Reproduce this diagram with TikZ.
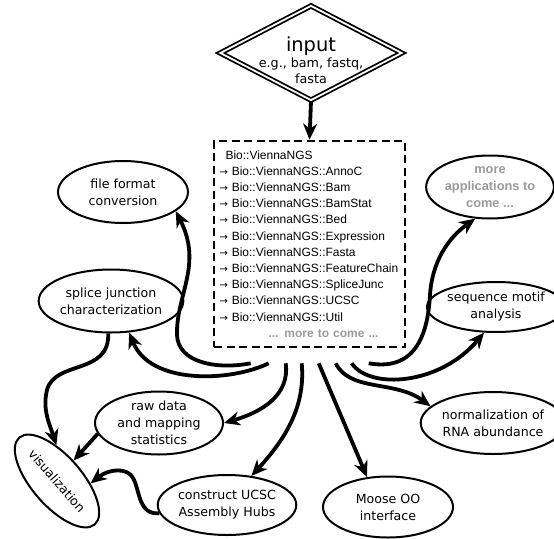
\documentclass[tikz,border=0pt]{standalone}
\usepackage{fontspec}
\setmainfont{DejaVu Sans}
\newfontfamily\modfont{Liberation Sans}
\usepackage{tikz}
\definecolor{g6}{HTML}{9A9A9A}
\usetikzlibrary{arrows.meta}
\usetikzlibrary{shapes.geometric}
\newcommand{\sub}{\makebox[12.3pt][l]{\rmfamily\fontsize{10}{10}\selectfont →}}

\tikzset{
	app/.style={ellipse, draw, line width=2pt, minimum width=130pt, minimum height=62pt, inner sep=0pt, align=center, font=\fontsize{12.6}{17}\selectfont},
	link/.style={line width=3.8pt, -{Stealth[length=16pt,width=14pt,inset=5pt]}}
}

\begin{document}
\begin{tikzpicture}[x=1pt, y=-1pt]
			\useasboundingbox (0,0) rectangle (554,538);

			\node[diamond, draw, double, double distance=1.8pt, line width=1.8pt, minimum width=182pt, minimum height=95pt, inner sep=0pt] (input) at (311,53) {};
			\node[align=center, inner sep=0pt, font=\fontsize{12.7}{16}\selectfont] (inputlabel) at (311,60) {{\fontsize{19.4}{20}\selectfont input}\\e.g., bam, fastq,\\fasta};

			\node[draw, line width=2.6pt, dash pattern=on 8pt off 4.5pt, minimum width=191pt, minimum height=206pt, text width=180pt, inner xsep=5.5pt, align=left, font=\modfont\fontsize{12}{16.2}\selectfont] (ngs) at (309.5,244) {\hspace*{6pt}Bio::ViennaNGS\\
				\sub Bio::ViennaNGS::AnnoC\\
				\sub Bio::ViennaNGS::Bam\\
				\sub Bio::ViennaNGS::BamStat\\
				\sub Bio::ViennaNGS::Bed\\
				\sub Bio::ViennaNGS::Expression\\
				\sub Bio::ViennaNGS::Fasta\\
				\sub Bio::ViennaNGS::FeatureChain\\
				\sub Bio::ViennaNGS::SpliceJunc\\
				\sub Bio::ViennaNGS::UCSC\\
				\sub Bio::ViennaNGS::Util\\
				{\color{g6}\bfseries\hspace*{49pt}... more to come ...}};

			\node[app] (conv) at (123,192) {file format\\conversion};
			\node[app, text=g6, font=\modfont\bfseries\fontsize{12.8}{17}\selectfont, minimum width=126pt, minimum height=63pt] (more) at (490,187) {more\\applications to\\come ...};
			\node[app, minimum width=128pt, minimum height=63pt] (splice) at (111,301) {splice junction\\characterization};
			\node[app, minimum width=118pt, minimum height=50pt] (motif) at (496,307) {sequence motif\\analysis};
			\node[app, minimum width=128pt, minimum height=63pt] (raw) at (159,423) {raw data\\and mapping\\statistics};
			\node[app, minimum width=115pt, minimum height=50pt, rotate=-49] (vis) at (57,481) {visualization};
			\node[app, minimum height=60pt] (hubs) at (227,505) {construct UCSC\\Assembly Hubs};
			\node[app, minimum height=61pt] (moose) at (388,507) {Moose OO\\interface};
			\node[app, minimum width=121pt, minimum height=62pt] (norm) at (493,423) {normalization of\\RNA abundance};

			\draw[link] (input.south) -- (ngs.north);

			\draw[link] ([shift={(38,15)}]ngs.south west) .. controls (215,370) and (178,362) .. (177,335) .. controls (176,295) and (203,265) .. (conv.-20);
			\draw[link] ([shift={(56,15)}]ngs.south west) .. controls (230,382) and (150,385) .. (splice.-60);
			\draw[link] ([shift={(73,15)}]ngs.south west) .. controls (290,395) and (262,412) .. (raw.east);
			\draw[link] ([shift={(89,15)}]ngs.south west) .. controls (305,400) and (292,432) .. (hubs.50);
			\draw[link] ([shift={(106,15)}]ngs.south west) -- (moose.125);
			\draw[link] ([shift={(123,15)}]ngs.south west) .. controls (350,392) and (395,380) .. (norm.165);
			\draw[link] ([shift={(139,15)}]ngs.south west) .. controls (370,390) and (440,385) .. (motif.-115);
			\draw[link] ([shift={(156,15)}]ngs.south west) .. controls (418,372) and (428,330) .. (430,295) .. controls (432,262) and (448,238) .. (more.-115);

			\draw[link] (splice.-95) .. controls (110,375) and (55,360) .. (47,390) .. controls (42,410) and (50,425) .. (vis.140);
			\draw[link] (raw.190) -- (vis.100);
			\draw[link] (hubs.187) .. controls (138,515) and (140,490) .. (133,478) .. controls (128,468) and (110,468) .. (vis.45);

		\end{tikzpicture}
\end{document}
